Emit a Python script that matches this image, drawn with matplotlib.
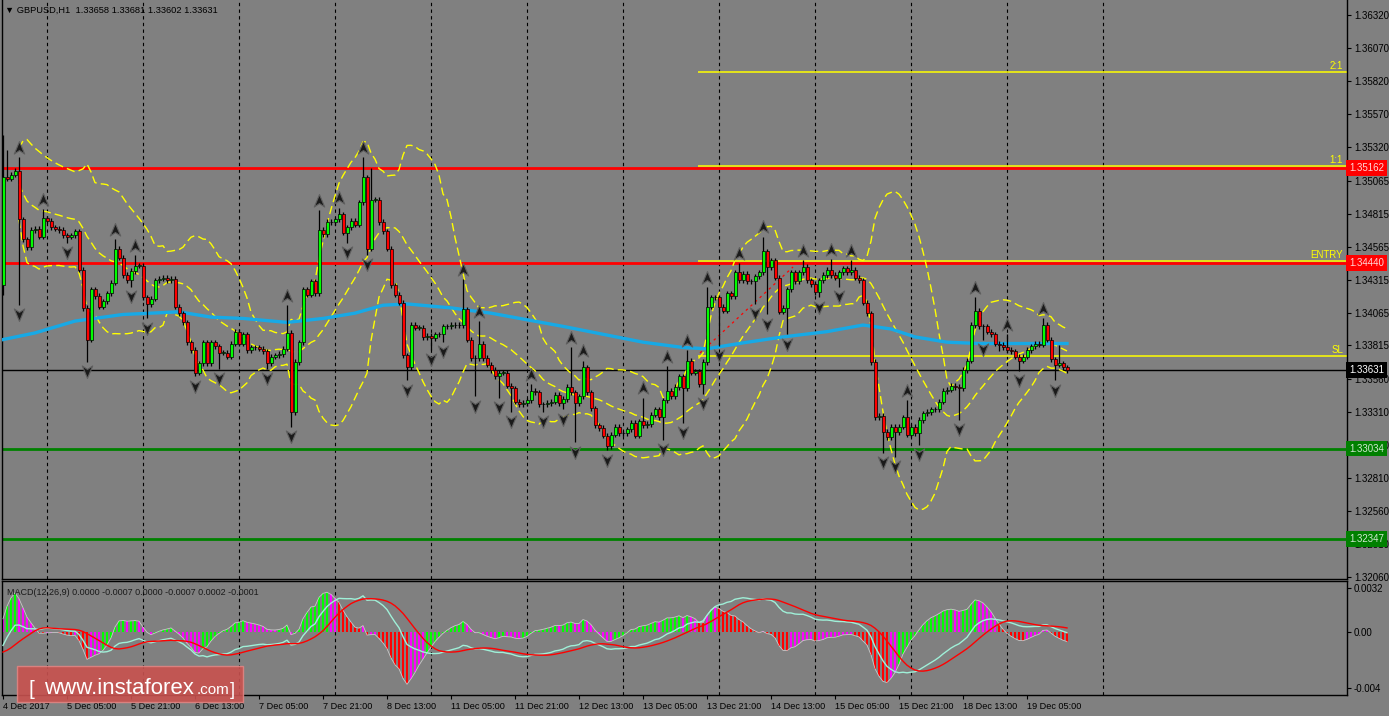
"""
GBPUSD H1 chart with Bollinger bands, moving average, fractals and MACD
(MT4 style screenshot rebuilt with matplotlib)
"""

import numpy as np
import pandas as pd
import matplotlib
matplotlib.use('Agg')
import matplotlib.pyplot as plt
import matplotlib.transforms as mtransforms
from matplotlib.path import Path
from matplotlib.patches import Rectangle

# hourly closes, bar 0 = 4 Dec 2017 13:00 ... bar 266 = 19 Dec 2017 15:00
closes = [
    1.3509, 1.3508, 1.3511, 1.3514, 1.3477, 1.3462, 1.3456, 1.3469, 1.3470, 1.3464,
    1.3478, 1.3476, 1.3471, 1.3470, 1.3469, 1.3465, 1.3464, 1.3465, 1.3468, 1.3439,
    1.3410, 1.3386, 1.3424, 1.3419, 1.3411, 1.3415, 1.3421, 1.3429, 1.3455, 1.3448,
    1.3435, 1.3431, 1.3438, 1.3442, 1.3442, 1.3418, 1.3413, 1.3417, 1.3431, 1.3432,
    1.3433, 1.3431, 1.3432, 1.3411, 1.3406, 1.3399, 1.3384, 1.3378, 1.3361, 1.3368,
    1.3384, 1.3368, 1.3384, 1.3381, 1.3376, 1.3376, 1.3373, 1.3383, 1.3392, 1.3383,
    1.3390, 1.3378, 1.3380, 1.3380, 1.3379, 1.3377, 1.3368, 1.3373, 1.3374, 1.3375,
    1.3379, 1.3391, 1.3331, 1.3369, 1.3384, 1.3424, 1.3420, 1.3430, 1.3421, 1.3469,
    1.3466, 1.3475, 1.3475, 1.3477, 1.3481, 1.3467, 1.3471, 1.3476, 1.3473, 1.3490,
    1.3509, 1.3455, 1.3492, 1.3492, 1.3475, 1.3468, 1.3455, 1.3427, 1.3420, 1.3414,
    1.3374, 1.3365, 1.3397, 1.3395, 1.3395, 1.3388, 1.3389, 1.3387, 1.3390, 1.3390,
    1.3396, 1.3396, 1.3397, 1.3397, 1.3397, 1.3409, 1.3386, 1.3372, 1.3372, 1.3383,
    1.3372, 1.3367, 1.3363, 1.3358, 1.3361, 1.3361, 1.3351, 1.3349, 1.3339, 1.3337,
    1.3338, 1.3340, 1.3347, 1.3346, 1.3337, 1.3337, 1.3338, 1.3339, 1.3344, 1.3338,
    1.3341, 1.3350, 1.3346, 1.3338, 1.3343, 1.3365, 1.3346, 1.3334, 1.3321, 1.3319,
    1.3313, 1.3305, 1.3314, 1.3320, 1.3315, 1.3315, 1.3318, 1.3323, 1.3313, 1.3324,
    1.3321, 1.3322, 1.3329, 1.3333, 1.3327, 1.3340, 1.3347, 1.3343, 1.3350, 1.3358,
    1.3349, 1.3370, 1.3361, 1.3362, 1.3352, 1.3369, 1.3411, 1.3418, 1.3418, 1.3411,
    1.3408, 1.3421, 1.3419, 1.3437, 1.3431, 1.3436, 1.3430, 1.3430, 1.3434, 1.3437,
    1.3453, 1.3441, 1.3446, 1.3433, 1.3407, 1.3410, 1.3424, 1.3437, 1.3430, 1.3437,
    1.3441, 1.3431, 1.3428, 1.3422, 1.3431, 1.3435, 1.3439, 1.3435, 1.3433, 1.3437,
    1.3440, 1.3437, 1.3439, 1.3433, 1.3431, 1.3414, 1.3406, 1.3369, 1.3327, 1.3328,
    1.3316, 1.3312, 1.3320, 1.3316, 1.3320, 1.3327, 1.3314, 1.3320, 1.3315, 1.3325,
    1.3330, 1.3331, 1.3333, 1.3333, 1.3339, 1.3347, 1.3348, 1.3351, 1.3350, 1.3349,
    1.3363, 1.3370, 1.3397, 1.3408, 1.3396, 1.3396, 1.3392, 1.3390, 1.3383, 1.3382,
    1.3380, 1.3378, 1.3377, 1.3373, 1.3370, 1.3373, 1.3378, 1.3381, 1.3383, 1.3382,
    1.3397, 1.3386, 1.3371, 1.3367, 1.3368, 1.3365, 1.3363,
]
first_open = 1.3427
wick = 0.0002

# wicks that stick out further than the usual
spike_highs = {0: 1.3541, 1: 1.3530, 4: 1.3524, 10: 1.3485, 28: 1.3462, 33: 1.3450,
               71: 1.3412, 79: 1.3484, 84: 1.3486, 90: 1.3524, 92: 1.3516,
               115: 1.3432, 119: 1.3400, 132: 1.3352, 142: 1.3380, 145: 1.3370,
               160: 1.3342, 166: 1.3366, 171: 1.3378, 176: 1.3426, 184: 1.3444,
               190: 1.3464, 200: 1.3446, 207: 1.3447, 212: 1.3446, 226: 1.3340,
               243: 1.3418, 251: 1.3390, 260: 1.3402, 264: 1.3382}
spike_lows = {0: 1.3420, 4: 1.3412, 16: 1.3459, 21: 1.3369, 32: 1.3426, 36: 1.3402,
              48: 1.3358, 54: 1.3364, 66: 1.3364, 72: 1.3320, 86: 1.3459, 91: 1.3450,
              101: 1.3355, 107: 1.3378, 110: 1.3384, 118: 1.3343, 124: 1.3342,
              127: 1.3331, 135: 1.3331, 140: 1.3333, 143: 1.3308, 151: 1.3302,
              159: 1.3311, 165: 1.3310, 170: 1.3323, 175: 1.3345, 179: 1.3381,
              188: 1.3413, 191: 1.3405, 196: 1.3390, 204: 1.3418, 209: 1.3426,
              220: 1.3300, 223: 1.3297, 229: 1.3306, 239: 1.3325, 245: 1.3386,
              249: 1.3377, 254: 1.3362, 263: 1.3355}

# slow moving average (blue), read at a few bars
ma_bars = [0, 8, 18, 30, 44, 52, 60, 71, 80, 88, 95, 101, 112, 122, 131, 140, 150,
           160, 170, 176, 184, 195, 206, 215, 222, 228, 236, 244, 253, 261, 266]
ma_vals = [1.3386, 1.3391, 1.3400, 1.3405, 1.3407, 1.3403, 1.3402, 1.3399, 1.3402,
           1.3406, 1.3412, 1.3413, 1.3410, 1.3406, 1.3401, 1.3396, 1.3390, 1.3384,
           1.3380, 1.3379, 1.3383, 1.3388, 1.3392, 1.3397, 1.3394, 1.3388, 1.3384,
           1.3383, 1.3383, 1.3383, 1.3383]

# state of the MACD before bar 0
macd_seed = {'ema_fast': 1.3433, 'ema_slow': 1.3450, 'main_prev': -0.0015}

# horizontal levels
red_levels = [1.35162, 1.34440]
green_levels = [1.33034, 1.32347]
last_price = 1.33631
plan_levels = {'2:1': 1.35888, '1:1': 1.35174, 'ENTRY': 1.34452, 'SL': 1.33735}
plan_start = 173.75
trend_x = [174.25, 197.5]
trend_y = [1.33758, 1.34410]

price_ticks = [1.36320, 1.36070, 1.35820, 1.35570, 1.35320, 1.35065, 1.34815, 1.34565,
               1.34315, 1.34065, 1.33815, 1.33560, 1.33310, 1.33060, 1.32810, 1.32560,
               1.32310, 1.32060]
date_labels = ['4 Dec 2017', '5 Dec 05:00', '5 Dec 21:00', '6 Dec 13:00', '7 Dec 05:00',
               '7 Dec 21:00', '8 Dec 13:00', '11 Dec 05:00', '11 Dec 21:00', '12 Dec 13:00',
               '13 Dec 05:00', '13 Dec 21:00', '14 Dec 13:00', '15 Dec 05:00', '15 Dec 21:00',
               '18 Dec 13:00', '19 Dec 05:00']

# ---------------------------------------------------------------- data prep
c = np.array(closes)
n = len(c)
x = np.arange(n)
o = np.r_[first_open, c[:-1]]
hi = np.maximum(o, c) + wick
lo = np.minimum(o, c) - wick
for k, v in spike_highs.items():
    hi[k] = max(hi[k], v)
for k, v in spike_lows.items():
    lo[k] = min(lo[k], v)

# Bollinger bands 20, 2
s = pd.Series(c)
mid = s.rolling(20, min_periods=5).mean()
sd = s.rolling(20, min_periods=5).std(ddof=0)
upper = mid + 2 * sd
lower = mid - 2 * sd

# fractals
up_fr = [i for i in range(2, n - 2) if hi[i] > max(hi[i-2:i]) and hi[i] > max(hi[i+1:i+3])]
dn_fr = [i for i in range(2, n - 2) if lo[i] < min(lo[i-2:i]) and lo[i] < min(lo[i+1:i+3])]

# MACD 12, 26, 9: white = main, red = signal, bars = 2 * (main - signal)
def ema(vals, period, seed):
    a = 2.0 / (period + 1)
    out = []
    e = seed
    for v in vals:
        e = e + a * (v - e)
        out.append(e)
    return np.array(out)

main = ema(c, 12, macd_seed['ema_fast']) - ema(c, 26, macd_seed['ema_slow'])
signal = pd.Series(np.r_[[macd_seed['main_prev']] * 8, main]).rolling(9).mean().values[8:]
hist = 2 * (main - signal)
h_up = np.diff(hist, prepend=hist[0]) > 0
hist_colors = []
for i in range(n):
    if h_up[i] and hist[i] > main[i]:
        hist_colors.append('#00ff00')
    elif not h_up[i] and hist[i] < main[i]:
        hist_colors.append('#ff0000')
    else:
        hist_colors.append('#ff00ff')

# ---------------------------------------------------------------- figure
W, H = 1389, 716
BG = '#808080'
plt.rcParams['font.family'] = ['Liberation Sans', 'DejaVu Sans']
fig = plt.figure(figsize=(W / 100, H / 100), dpi=100, facecolor=BG)

def fx(px):
    return px / W

def fy(py):
    return 1 - py / H

ax = fig.add_axes([fx(2), fy(579), fx(1347) - fx(2), fy(0) - fy(579)], facecolor=BG)
ax2 = fig.add_axes([fx(2), fy(695), fx(1347) - fx(2), fy(581) - fy(695)], facecolor=BG)

ppx = 13193.0
ax.set_ylim(1.3632 - (579 - 15) / ppx, 1.3632 + 15 / ppx)
ax2.set_ylim(-63 / 13900.0, 51 / 13900.0)
for a in (ax, ax2):
    a.set_xlim(-0.25, 336)
    for sp in a.spines.values():
        sp.set_color('black')
        sp.set_linewidth(1)
    a.spines['top'].set_visible(a is ax2)
    # vertical grid
    for k in range(12):
        a.axvline(11.1 + 24 * k, color='black', lw=0.8, ls=(0, (3, 3)), zorder=1)

# horizontal levels
for lv in red_levels:
    ax.axhline(lv, color='#ff0000', lw=2, zorder=2)
for lv in green_levels:
    ax.axhline(lv, color='#008000', lw=2, zorder=2)
ax.axhline(last_price, color='black', lw=1, zorder=2)
for name, lv in plan_levels.items():
    ax.hlines(lv, plan_start, 336, color='#ffff00', lw=1.1, zorder=2)
    ax.text(335, lv + 0.00008, name, color='#ffff00', fontsize=7, ha='right', va='bottom')
ax.plot(trend_x, trend_y, color='#ff0000', lw=0.9, ls=(0, (2, 3)), zorder=2)

# bands and average
for band in (upper, mid, lower):
    ax.plot(x, band, color='#ffff00', lw=1, ls=(0, (6, 3)), zorder=3)
ax.plot(ma_bars, ma_vals, color='#17a9e6', lw=2.4, zorder=3)

# candles
ax.vlines(x, lo, hi, color='black', lw=0.9, zorder=4)
body_lo = np.minimum(o, c)
body_h = np.maximum(np.abs(c - o), 0.00003)
ax.bar(x, body_h, bottom=body_lo, width=0.75,
       color=np.where(c >= o, '#00ff00', '#ff0000'), edgecolor='black', linewidth=0.5, zorder=5)

# fractal arrows
arrow_up = Path([(0, 1), (0.75, -0.8), (0, -0.3), (-0.75, -0.8), (0, 1)],
                [Path.MOVETO, Path.LINETO, Path.LINETO, Path.LINETO, Path.CLOSEPOLY])
arrow_dn = Path([(0, -1), (0.75, 0.8), (0, 0.3), (-0.75, 0.8), (0, -1)],
                [Path.MOVETO, Path.LINETO, Path.LINETO, Path.LINETO, Path.CLOSEPOLY])
ax.plot(up_fr, hi[up_fr] + 0.0007, ls='none', marker=arrow_up, ms=10,
        mfc='#1a1a1a', mec='#606060', mew=0.8, zorder=6)
ax.plot(dn_fr, lo[dn_fr] - 0.0007, ls='none', marker=arrow_dn, ms=10,
        mfc='#1a1a1a', mec='#606060', mew=0.8, zorder=6)

# price axis
ax.set_xticks([])
ax.yaxis.tick_right()
ax.set_yticks(price_ticks)
ax.set_yticklabels(['%.5f' % t for t in price_ticks])
ax.tick_params(axis='y', length=3, pad=2, labelsize=7, colors='black', width=0.8)

blend = mtransforms.blended_transform_factory(ax.transAxes, ax.transData)
tags = [(red_levels[0], '#ff0000', '#ffd8d8'), (red_levels[1], '#ff0000', '#ffd8d8'),
        (last_price, '#000000', '#ffffff'), (green_levels[0], '#008000', '#d0e8d0'),
        (green_levels[1], '#008000', '#d0e8d0')]
for lv, fc, tc in tags:
    ax.text(1.0015, lv, '%.5f' % lv, transform=blend, fontsize=7, color=tc,
            ha='left', va='center', zorder=10, clip_on=False,
            bbox=dict(boxstyle='square,pad=0.3', fc=fc, ec='none'))

fig.text(fx(5), fy(10), '\u25bc GBPUSD,H1  1.33658 1.33681 1.33602 1.33631',
         fontsize=6.7, color='black', va='center', ha='left')

# MACD panel
ax2.bar(x, hist, width=0.72, color=hist_colors, linewidth=0, zorder=2)
ax2.plot(x, hist, color='#c8c8c8', lw=0.6, zorder=3)
ax2.plot(x, main, color='#9ff0d8', lw=1, zorder=4)
ax2.plot(x, signal, color='#ff0000', lw=1, zorder=4)
ax2.yaxis.tick_right()
ax2.set_yticks([0.0032, 0.0, -0.004])
ax2.set_yticklabels(['0.0032', '0.00', '-0.004'])
ax2.tick_params(axis='y', length=3, pad=2, labelsize=7, colors='black', width=0.8)
ax2.set_xticks(np.arange(0, 257, 16))
ax2.set_xticklabels(date_labels, ha='left')
ax2.tick_params(axis='x', length=3, pad=2, labelsize=6.6, colors='black', width=0.8)
ax2.text(0.004, 0.9, 'MACD(12,26,9) 0.0000 -0.0007 0.0000 -0.0007 0.0002 -0.0001',
         transform=ax2.transAxes, fontsize=6.5, color='#1a1a1a', va='center', ha='left')

# logo
fig.add_artist(Rectangle((fx(17), fy(702)), fx(243) - fx(17), fy(666) - fy(702),
                         transform=fig.transFigure, fc='#c9524f', ec='#e08482', lw=1,
                         alpha=0.9, zorder=20))
fig.text(fx(29), fy(695), '[', fontsize=15, color='white', va='baseline', zorder=21)
fig.text(fx(44), fy(694), 'www.instaforex', fontsize=16, color='white', va='baseline', zorder=21)
fig.text(fx(197), fy(694), '.com', fontsize=11, color='white', va='baseline', zorder=21)
fig.text(fx(230), fy(695), ']', fontsize=13, color='white', va='baseline', zorder=21)

fig.savefig('out.png', dpi=100, facecolor=BG)
